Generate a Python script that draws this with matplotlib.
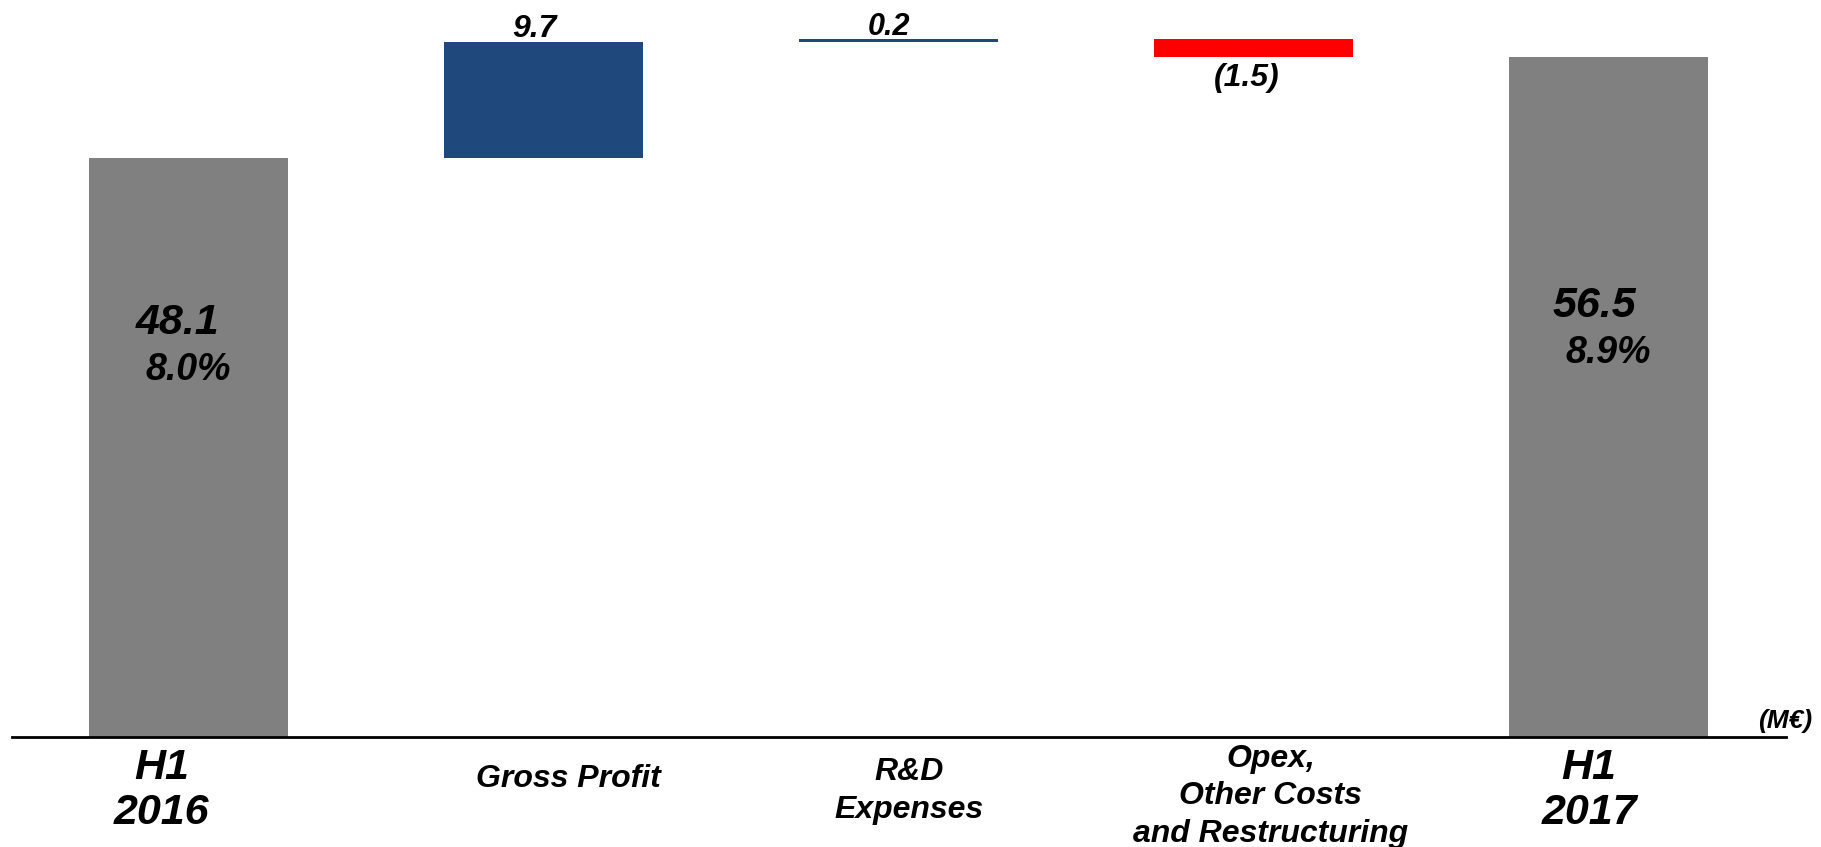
import numpy as np
import matplotlib.pyplot as plt

# data (M EUR)
categories = ["H1\n2016", "Gross Profit", "R&D\nExpenses",
              "Opex,\nOther Costs\nand Restructuring", "H1\n2017"]
values = [48.1, 9.7, 0.2, -1.5, 56.5]
is_total = [True, False, False, False, True]
margins = ["8.0%", "", "", "", "8.9%"]

GRAY = "#808080"
BLUE = "#1F497D"
RED = "#FF0000"

plt.rcParams['font.family'] = ['Liberation Sans', 'DejaVu Sans']
plt.rcParams['font.weight'] = 'bold'
plt.rcParams['font.style'] = 'italic'

fig = plt.figure(figsize=(18.21, 8.47), dpi=100)
ax = fig.add_axes([12 / 1821, 110 / 847, 1774 / 1821, 737 / 847])

# waterfall: work out the bottom of each bar from the running total
bottoms = []
heights = []
colors = []
running = 0.0
for v, tot in zip(values, is_total):
    if tot:
        bottoms.append(0.0)
        heights.append(v)
        colors.append(GRAY)
        running = v
    elif v >= 0:
        bottoms.append(running)
        heights.append(v)
        colors.append(BLUE)
        running += v
    else:
        bottoms.append(running + v)
        heights.append(-v)
        colors.append(RED)
        running += v

x = np.arange(len(values))
ax.bar(x, heights, bottom=bottoms, width=0.56, color=colors, linewidth=0)

# where the labels inside the gray bars sit (value y, margin y, x shift)
inner_pos = {0: (34.4, 30.5, -0.03), 4: (35.8, 31.9, -0.04)}

for i, v in enumerate(values):
    if is_total[i]:
        yv, ym, dx = inner_pos[i]
        ax.text(i + dx, yv, f"{v:.1f}", ha='center', va='center', fontsize=31)
        ax.text(i, ym, margins[i], ha='center', va='center', fontsize=27)
    elif v >= 0:
        ax.annotate(f"{v:.1f}", (i - 0.025, bottoms[i] + heights[i]),
                    xytext=(0, 3), textcoords='offset points',
                    ha='center', va='baseline', fontsize=23 if v > 1 else 22)
    else:
        ax.annotate(f"({abs(v):.1f})", (i - 0.02, bottoms[i]),
                    xytext=(0, -4), textcoords='offset points',
                    ha='center', va='top', fontsize=23)

# category labels under the axis line
label_dx = [-0.075, 0.07, 0.03, 0.048, -0.055]
label_y = [-4.45, -3.5, -4.5, -4.93, -4.45]
for i, lab in enumerate(categories):
    if is_total[i]:
        size, spacing = 31, 1.18
    else:
        size, spacing = 23, 1.32
    ax.text(i + label_dx[i], label_y[i], lab, ha='center', va='center',
            fontsize=size, linespacing=spacing, clip_on=False)

fig.text(1812 / 1821, 1 - 721 / 847, "(M€)", ha='right', va='center',
         fontsize=19)

ax.set_xlim(-0.496, 4.5)
ax.set_ylim(0, 737 / 12.03)
for s in ['top', 'right', 'left']:
    ax.spines[s].set_visible(False)
ax.spines['bottom'].set_linewidth(2)
ax.spines['bottom'].set_color('black')
ax.set_xticks([])
ax.set_yticks([])

fig.savefig("out.png", dpi=100)
